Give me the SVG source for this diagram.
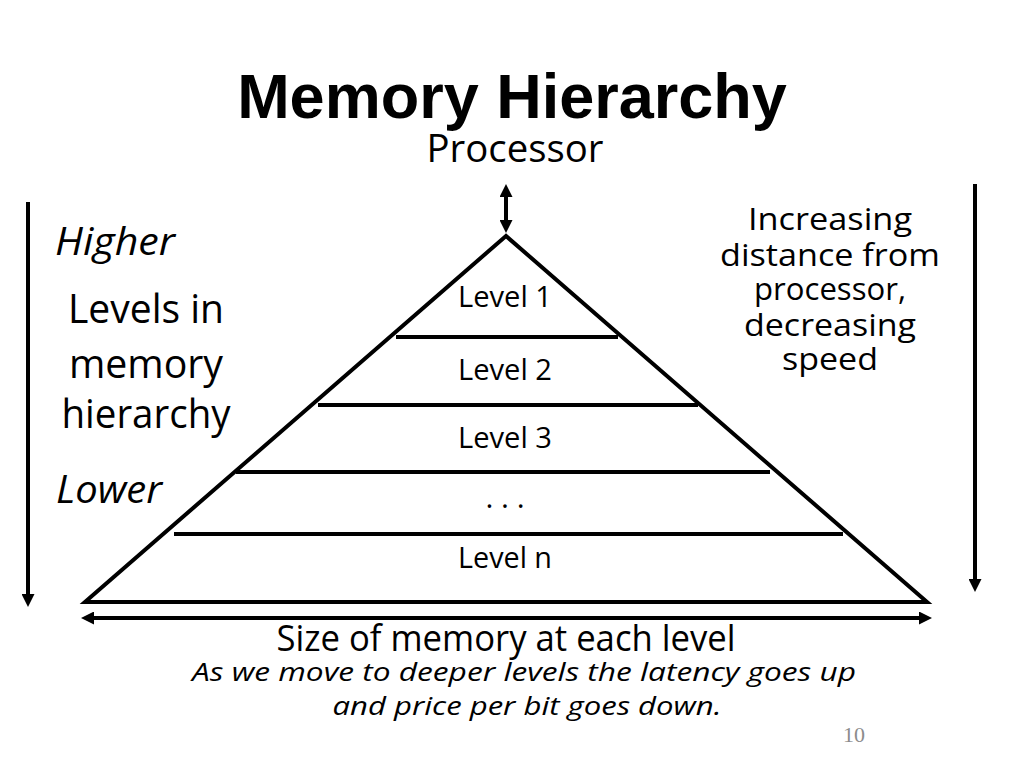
<svg xmlns="http://www.w3.org/2000/svg" width="1024" height="768" viewBox="0 0 1024 768">
<style>
  .t { font-family: "Open Sans", "Liberation Sans", sans-serif; fill: #000; }
  .it { font-style: italic; }
  .ln { stroke: #000; stroke-width: 4; fill: none; }
  .lvl { font-size: 30px; text-anchor: middle; }
</style>
<defs>
  <marker id="ah" markerUnits="userSpaceOnUse" markerWidth="14" markerHeight="13" refX="5" refY="6.5" orient="auto-start-reverse">
    <path d="M0,0 L13,6.5 L0,13 z" fill="#000"/>
  </marker>
</defs>
<rect width="1024" height="768" fill="#fff"/>

<text x="512" y="118" font-family="'Liberation Sans', Arial, sans-serif" font-weight="bold" font-size="63" text-anchor="middle">Memory Hierarchy</text>

<g id="processor">
  <text class="t" x="515" y="162" font-size="38" text-anchor="middle" textLength="177" lengthAdjust="spacingAndGlyphs">Processor</text>
</g>

<g id="pyramid">
  <polygon class="ln" points="506,236 85,602 927,602" stroke-linejoin="miter"/>
  <line class="ln" x1="396" y1="337" x2="618" y2="337"/>
  <line class="ln" x1="318" y1="405" x2="698" y2="405"/>
  <line class="ln" x1="236" y1="472" x2="770" y2="472"/>
  <line class="ln" x1="174" y1="534" x2="843" y2="534"/>
</g>
<g id="level1"><text class="t lvl" x="505" y="307" textLength="94" lengthAdjust="spacingAndGlyphs">Level 1</text></g>
<g id="level2"><text class="t lvl" x="505" y="380" textLength="94" lengthAdjust="spacingAndGlyphs">Level 2</text></g>
<g id="level3"><text class="t lvl" x="505" y="448" textLength="94" lengthAdjust="spacingAndGlyphs">Level 3</text></g>
<g id="levelDots"><text class="t lvl" x="505" y="508">. . .</text></g>
<g id="levelN"><text class="t lvl" x="505" y="568" textLength="94" lengthAdjust="spacingAndGlyphs">Level n</text></g>

<g id="left-labels">
  <text class="t it" x="55" y="255" font-size="39" textLength="120" lengthAdjust="spacingAndGlyphs">Higher</text>
  <text class="t" x="146" y="323" font-size="40" text-anchor="middle" textLength="156" lengthAdjust="spacingAndGlyphs">Levels in</text>
  <text class="t" x="146" y="378" font-size="40" text-anchor="middle" textLength="154" lengthAdjust="spacingAndGlyphs">memory</text>
  <text class="t" x="146" y="428" font-size="40" text-anchor="middle" textLength="169" lengthAdjust="spacingAndGlyphs">hierarchy</text>
  <text class="t it" x="56" y="503" font-size="39" textLength="106" lengthAdjust="spacingAndGlyphs">Lower</text>
</g>

<g id="right-labels" class="t" font-size="31" text-anchor="middle">
  <text x="830" y="230" textLength="164" lengthAdjust="spacingAndGlyphs">Increasing</text>
  <text x="830" y="266" textLength="220" lengthAdjust="spacingAndGlyphs">distance from</text>
  <text x="830" y="300" textLength="152" lengthAdjust="spacingAndGlyphs">processor,</text>
  <text x="830" y="336" textLength="172" lengthAdjust="spacingAndGlyphs">decreasing</text>
  <text x="830" y="370" textLength="96" lengthAdjust="spacingAndGlyphs">speed</text>
</g>

<g id="size-label">
  <text class="t" x="506" y="651" font-size="36" text-anchor="middle" textLength="459" lengthAdjust="spacingAndGlyphs">Size of memory at each level</text>
</g>

<g id="caption" class="t it" font-size="26" text-anchor="middle">
  <text x="524" y="681" textLength="664" lengthAdjust="spacingAndGlyphs">As we move to deeper levels the latency goes up</text>
  <text x="527" y="715" textLength="389" lengthAdjust="spacingAndGlyphs">and price per bit goes down.</text>
</g>

<text x="865" y="742" font-family="'Liberation Serif', 'Times New Roman', serif" font-size="22" fill="#8c8c8c" text-anchor="end">10</text>

<g id="connectors">
  <line class="ln" x1="506" y1="192" x2="506" y2="225" marker-start="url(#ah)" marker-end="url(#ah)"/>
  <line class="ln" x1="28" y1="202" x2="28" y2="599" marker-end="url(#ah)"/>
  <line class="ln" x1="975" y1="184" x2="975" y2="584" marker-end="url(#ah)"/>
  <line class="ln" x1="89" y1="618" x2="924" y2="618" marker-start="url(#ah)" marker-end="url(#ah)"/>
</g>
</svg>
